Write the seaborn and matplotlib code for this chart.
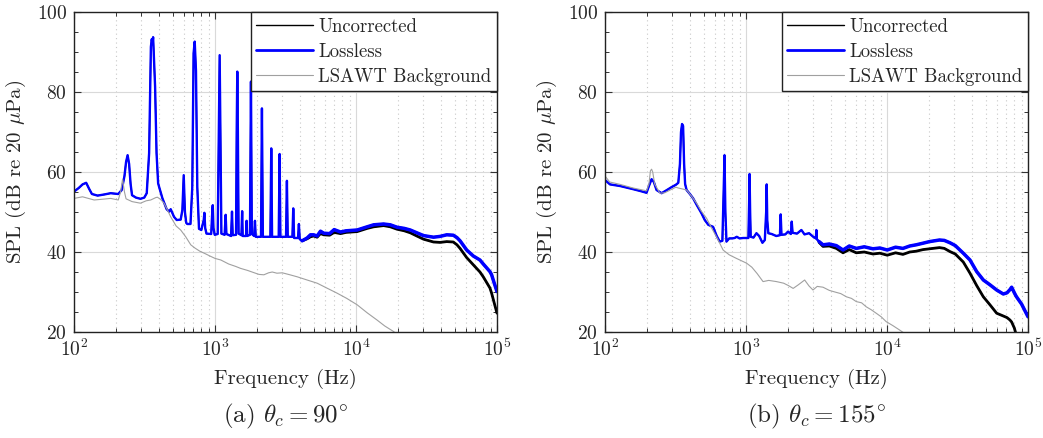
import numpy as np
import pandas as pd
import matplotlib
matplotlib.use("Agg")
import matplotlib.pyplot as plt
from matplotlib.ticker import LogLocator, MultipleLocator, NullFormatter
import seaborn as sns

# ---------------- DATA ----------------
# Panel (a) theta_c = 90 deg : tonal / low-frequency part shared by both corrections
a_low_f = [100, 108, 115, 122, 128, 134, 147, 165, 182, 206, 218, 228, 234, 240, 246, 252, 258,
           275, 296, 315, 328, 341, 351, 356, 360, 364, 376, 385, 395, 402, 424, 454, 473, 485,
           512, 535, 571, 587, 600, 612, 625, 636, 670, 690, 705, 718, 733, 749, 770, 800, 832,
           841, 852, 870, 940, 956, 964, 975, 995, 1045, 1065, 1079, 1093, 1110, 1170, 1190,
           1205, 1300, 1320, 1335, 1410, 1425, 1439, 1453, 1470, 1540, 1558, 1572, 1660, 1675,
           1690, 1770, 1799, 1825, 1895, 1920, 1945, 2120, 2152, 2185, 2470, 2506, 2540, 2830,
           2872, 2910, 3190, 3236, 3280, 3540, 3589, 3640, 3880, 3935, 3990]
a_low_spl = [55.1, 56.0, 56.9, 57.3, 55.8, 54.5, 54.1, 54.4, 54.7, 54.5, 55.5, 59.0, 62.5, 64.2,
             62.0, 57.0, 54.2, 53.6, 53.3, 53.6, 54.7, 64.7, 91.3, 93.2, 92.2, 93.7, 81.3, 64.7,
             57.2, 56.2, 53.4, 50.7, 50.1, 50.7, 48.8, 48.0, 48.1, 50.5, 59.2, 50.0, 47.3, 47.0,
             47.0, 56.2, 89.7, 92.6, 85.3, 56.2, 45.8, 45.5, 48.0, 49.8, 46.0, 44.6, 44.5, 50.0,
             51.7, 46.0, 44.3, 44.5, 70.0, 89.2, 70.0, 44.6, 44.3, 49.3, 44.5, 44.0, 50.1, 44.2,
             44.3, 70.0, 85.1, 70.0, 44.6, 44.2, 50.2, 44.0, 44.0, 47.8, 44.0, 44.3, 82.6, 44.5,
             44.0, 47.8, 43.8, 43.8, 75.9, 43.8, 43.8, 65.9, 43.8, 43.8, 64.5, 43.8, 43.8, 57.8,
             43.8, 43.8, 50.9, 43.5, 43.5, 47.0, 43.2]
# Panel (a) broadband part
a_hi_f = [4150, 4500, 4754, 5000, 5300, 5600, 5905, 6500, 7000, 7762, 8500, 10190, 12000, 13350,
          15700, 17500, 19530, 22000, 24270, 27000, 30140, 35460, 39450, 44000, 48980, 52000,
          54700, 60950, 67900, 75700, 79900, 89100, 91600, 96000, 100000]
a_hi_lossless = [42.8, 43.5, 44.3, 44.3, 44.0, 45.2, 44.7, 44.6, 45.6, 45.0, 45.3, 45.5, 46.3,
                 46.8, 47.0, 46.8, 46.2, 45.9, 45.5, 44.8, 44.1, 43.7, 43.9, 44.3, 44.2, 43.6,
                 42.8, 40.5, 39.0, 38.0, 37.0, 35.1, 34.3, 32.0, 30.1]
a_hi_uncorrected = [42.8, 43.3, 43.8, 44.0, 43.7, 44.6, 44.3, 44.2, 44.9, 44.6, 44.9, 45.1, 45.9,
                    46.3, 46.6, 46.3, 45.7, 45.3, 44.8, 44.0, 43.2, 42.5, 42.4, 42.6, 42.5, 41.8,
                    40.9, 38.6, 36.8, 35.0, 33.8, 31.0, 29.7, 27.0, 24.7]
a_bg_f = [100, 115, 139, 160, 182, 206, 214, 221, 228, 234, 258, 296, 325, 350, 380, 390, 410,
          435, 460, 485, 530, 571, 620, 673, 720, 780, 850, 920, 1000, 1100, 1250, 1400, 1520,
          1700, 1900, 2050, 2222, 2400, 2547, 2750, 3000, 3400, 3828, 4500, 5305, 6200, 7351,
          8600, 10190, 12000, 14090, 16000, 18500, 21000]
a_bg_spl = [53.4, 53.8, 53.0, 53.2, 53.4, 53.0, 55.0, 58.2, 55.0, 53.3, 52.6, 52.2, 52.8, 53.0,
            53.6, 53.7, 53.2, 52.2, 50.5, 48.8, 46.5, 45.5, 43.8, 41.8, 41.0, 40.2, 39.6, 39.0,
            38.4, 38.0, 37.0, 36.4, 35.9, 35.4, 34.8, 34.4, 34.3, 34.8, 35.0, 34.7, 34.8, 34.3,
            33.8, 33.0, 32.2, 31.0, 29.7, 28.4, 26.8, 24.8, 23.0, 21.5, 20.1, 18.5]

# Panel (b) theta_c = 155 deg
b_low_f = [100, 108.5, 127.7, 158.6, 180, 197, 205, 214, 222, 232, 252, 275, 296, 318, 331, 340,
           346, 352, 358, 364, 370, 379, 400, 422, 450, 483, 510, 540, 565, 584, 620, 651, 680,
           694, 704, 714, 727, 760, 800, 830, 860, 900, 954, 1040, 1052, 1060, 1070, 1080, 1130,
           1186, 1240, 1308, 1360, 1390, 1402, 1415, 1440, 1520, 1640, 1740, 1762, 1785, 1900,
           1987, 2080, 2110, 2140, 2300, 2471, 2600, 2800, 3000, 3130, 3155, 3180]
b_low_spl = [58.0, 56.9, 56.5, 55.7, 55.2, 54.8, 56.5, 58.2, 57.5, 55.5, 54.7, 55.5, 56.2, 56.8,
             57.3, 62.0, 70.0, 72.0, 71.5, 62.0, 57.0, 55.5, 54.5, 53.4, 51.6, 49.7, 48.0, 46.8,
             46.5, 46.3, 44.0, 42.6, 42.8, 55.0, 64.2, 50.0, 42.6, 43.4, 43.4, 43.5, 43.8, 43.4,
             43.5, 43.5, 52.0, 59.5, 50.0, 43.8, 43.6, 44.7, 44.0, 42.3, 43.0, 50.0, 56.9, 48.0,
             44.7, 44.5, 44.0, 44.2, 49.4, 44.3, 44.4, 45.1, 44.5, 47.6, 44.8, 44.6, 45.5, 44.4,
             44.7, 43.8, 43.4, 45.5, 43.2]
b_hi_f = [3300, 3517, 3900, 4371, 4877, 5400, 6055, 6900, 7946, 8900, 10040, 11500, 12970, 14500,
          16110, 18000, 20030, 23560, 25500, 27990, 30500, 34750, 38780, 43270, 48220, 53730,
          59930, 66800, 71000, 74480, 76560, 80000, 82200, 84000, 90000, 100000]
b_hi_lossless = [42.6, 41.8, 42.0, 41.6, 40.5, 41.5, 40.9, 41.3, 40.8, 41.0, 40.5, 41.2, 40.9,
                 41.5, 41.8, 42.2, 42.6, 43.0, 42.9, 42.3, 41.6, 39.7, 38.0, 35.1, 33.0, 31.8,
                 30.5, 29.5, 29.8, 30.6, 31.2, 29.8, 29.0, 28.5, 27.0, 23.8]
b_hi_uncorrected = [42.4, 41.4, 41.5, 40.9, 39.8, 40.6, 39.8, 40.0, 39.5, 39.7, 39.2, 39.8, 39.4,
                    40.0, 40.2, 40.6, 40.8, 41.1, 40.9, 40.1, 39.5, 37.5, 34.7, 31.6, 28.8, 26.8,
                    24.7, 24.0, 23.6, 23.0, 22.5, 21.0, 19.5, 17.0, 15.0, 12.0]
b_bg_f = [100, 108, 128, 158, 197, 205, 210, 214, 218, 225, 245, 265, 290, 318, 331, 360, 379,
          410, 446, 480, 526, 570, 618, 688, 760, 855, 930, 1010, 1100, 1200, 1321, 1450, 1645,
          1850, 2000, 2160, 2350, 2606, 2800, 2985, 3200, 3516, 3900, 4371, 4700, 5155, 5600,
          6055, 6600, 7124, 7700, 8380, 9100, 9860, 11000, 12280, 13500]
b_bg_spl = [59.0, 57.5, 56.9, 56.0, 55.3, 57.0, 60.3, 60.7, 60.0, 57.0, 54.7, 54.8, 55.5, 56.2,
            56.0, 55.7, 55.5, 54.0, 52.2, 50.3, 48.4, 46.0, 43.8, 40.5, 39.3, 38.4, 37.8, 37.2,
            36.2, 34.6, 32.6, 32.9, 32.6, 32.2, 31.6, 30.9, 31.8, 33.0, 31.5, 30.5, 31.4, 31.2,
            30.4, 29.9, 29.6, 28.8, 28.4, 27.6, 27.3, 26.3, 25.6, 24.7, 23.8, 22.6, 21.6, 20.5,
            19.5]

series_names = ["Uncorrected", "Lossless", "LSAWT Background"]
captions = [r"(a) $\theta_c = 90^{\circ}$", r"(b) $\theta_c = 155^{\circ}$"]

# ---------------- STYLE ----------------
sns.set_style("ticks")
plt.rcParams.update({
    "font.family": ["cmr10", "DejaVu Serif"],
    "mathtext.fontset": "cm",
    "axes.formatter.use_mathtext": True,
    "font.size": 14,
})

colors = {"Uncorrected": "#000000", "Lossless": "#0000ff", "LSAWT Background": "#a0a0a0"}

fig = plt.figure(figsize=(10.43, 4.38), dpi=100)
W, H = 1043.0, 438.0
ax_a = fig.add_axes([74 / W, 106 / H, 423 / W, 320 / H])
ax_b = fig.add_axes([605 / W, 106 / H, 423 / W, 320 / H])


def draw(ax, low_f, low_spl, hi_f, hi_l, hi_u, bg_f, bg_spl, caption):
    unc = pd.DataFrame({"f": low_f + hi_f, "spl": low_spl + hi_u})
    los = pd.DataFrame({"f": low_f + hi_f, "spl": low_spl + hi_l})
    bg = pd.DataFrame({"f": bg_f, "spl": bg_spl})
    sns.lineplot(data=unc, x="f", y="spl", ax=ax, color=colors["Uncorrected"], lw=1.0,
                 sort=False, estimator=None, label="Uncorrected")
    sns.lineplot(x=hi_f, y=hi_u, ax=ax, color=colors["Uncorrected"], lw=2.0,
                 sort=False, estimator=None)
    sns.lineplot(data=los, x="f", y="spl", ax=ax, color=colors["Lossless"], lw=1.7,
                 sort=False, estimator=None, label="Lossless")
    sns.lineplot(x=hi_f, y=hi_l, ax=ax, color=colors["Lossless"], lw=2.5,
                 sort=False, estimator=None)
    sns.lineplot(data=bg, x="f", y="spl", ax=ax, color=colors["LSAWT Background"], lw=0.8,
                 sort=False, estimator=None, label="LSAWT Background")

    ax.set_xscale("log")
    ax.set_xlim(100, 1e5)
    ax.set_ylim(20, 100)
    ax.yaxis.set_major_locator(MultipleLocator(20))
    ax.yaxis.set_minor_locator(MultipleLocator(5))
    ax.xaxis.set_major_locator(LogLocator(base=10, numticks=10))
    ax.xaxis.set_minor_locator(LogLocator(base=10, subs=np.arange(2, 10), numticks=100))
    ax.xaxis.set_minor_formatter(NullFormatter())
    ax.grid(which="major", axis="both", color="#d9d9d9", lw=0.8, ls="-")
    ax.grid(which="minor", axis="x", color="#c8c8c8", lw=0.8, ls=(0, (1, 3)))
    ax.set_axisbelow(True)
    ax.tick_params(which="both", direction="in", top=True, right=True, color="#333333",
                   labelsize=14, pad=5)
    ax.tick_params(which="major", length=5, width=0.8)
    ax.tick_params(which="minor", length=3, width=0.7)
    for s in ax.spines.values():
        s.set_color("#222222")
        s.set_linewidth(1.0)
    ax.set_xlabel("Frequency (Hz)", fontsize=15, labelpad=6)
    ax.set_ylabel(r"SPL (dB re 20 $\mu$Pa)", fontsize=15, labelpad=6)

    handles, labels = ax.get_legend_handles_labels()
    order = [labels.index(n) for n in series_names]
    leg = ax.legend([handles[i] for i in order], series_names, loc="upper right",
                    borderaxespad=0, fancybox=False, framealpha=1, edgecolor="#222222",
                    fontsize=13.5, handlelength=3.0, handletextpad=0.3, labelspacing=0.38,
                    borderpad=0.3)
    leg.get_frame().set_linewidth(1.0)
    lws = [1.0, 2.0, 0.8]
    for ln, w in zip(leg.get_lines(), lws):
        ln.set_linewidth(w)

    bb = ax.get_position()
    fig.text((bb.x0 + bb.x1) / 2, 1 - 416 / H, caption, ha="center", va="center", fontsize=18)


draw(ax_a, a_low_f, a_low_spl, a_hi_f, a_hi_lossless, a_hi_uncorrected, a_bg_f, a_bg_spl,
     captions[0])
draw(ax_b, b_low_f, b_low_spl, b_hi_f, b_hi_lossless, b_hi_uncorrected, b_bg_f, b_bg_spl,
     captions[1])

fig.savefig("out.png", dpi=100)
